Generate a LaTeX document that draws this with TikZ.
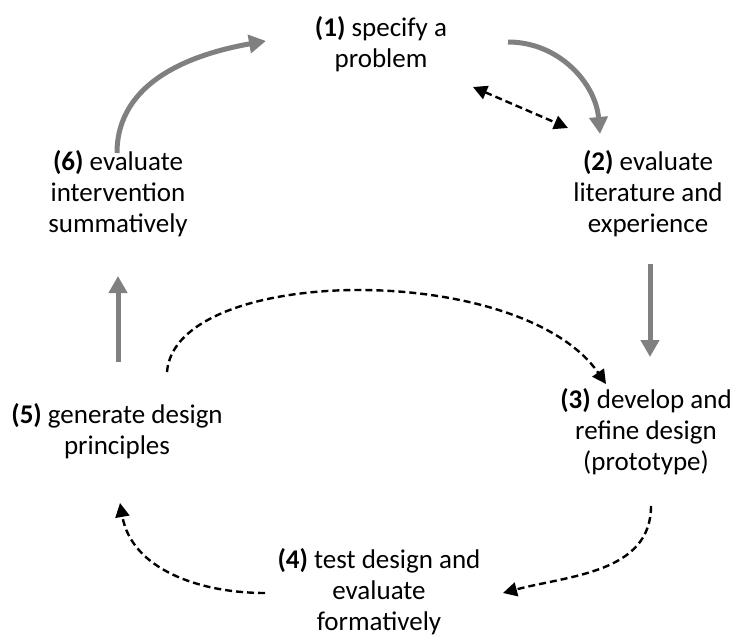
\documentclass[tikz,border=0pt]{standalone}
\usepackage{fontspec}
\setmainfont{Carlito}
\usetikzlibrary{arrows.meta, positioning}

\tikzset{
  phase/.style={align=center, font=\fontsize{27}{31}\selectfont, inner sep=0pt},
  greyarrow/.style={draw=black!50, line width=5pt, -{Triangle[length=17pt,width=18pt]}},
  dasharrow/.style={draw=black, line width=2.4pt, dash pattern=on 7pt off 4pt, -{Triangle[length=14pt,width=14pt]}}
}

\begin{document}
\begin{tikzpicture}[x=1pt,y=-1pt]
  \useasboundingbox (0,0) rectangle (736,639);

  \node(p1) [phase] at (381,44)  {\textbf{(1)} specify a\\problem};
  \node(p2) [phase] at (648,194) {\textbf{(2)} evaluate\\literature and\\experience};
  \node(p3) [phase] at (646,432) {\textbf{(3)} develop and\\refine design\\(prototype)};
  \node(p4) [phase] at (379,592) {\textbf{(4)} test design and\\evaluate\\formatively};
  \node(p5) [phase] at (117,431) {\textbf{(5)} generate design\\principles};
  \node(p6) [phase] at (118,194) {\textbf{(6)} evaluate\\intervention\\summatively};

  % arrow ends
  \coordinate(a61) at (117,153);
  \coordinate(b61) at (266,41);
  \coordinate(a12) at (508,42);
  \coordinate(b12) at (600,134);
  \coordinate(a1) at (473,87);
  \coordinate(b1) at (568,128);
  \coordinate(a23) at (650,264);
  \coordinate(b23) at (650,357);
  \coordinate(a56) at (118,362);
  \coordinate(b56) at (118,276);
  \coordinate(a53) at (167,372);
  \coordinate(b53) at (606,384);
  \coordinate(a34) at (651,506);
  \coordinate(b34) at (503,593);
  \coordinate(a45) at (265,593);
  \coordinate(b45) at (120,503);

  \draw[greyarrow] (a61) to[out=90, in=190] (b61);
  \draw[greyarrow] (a12) to[out=0, in=95] (b12);
  \draw[greyarrow] (a23) -- (b23);
  \draw[greyarrow] (a56) -- (b56);

  \draw[dasharrow, {Triangle[length=14pt,width=14pt]}-{Triangle[length=14pt,width=14pt]}] (a1) -- (b1);
  \draw[dasharrow] (a53) .. controls (175,265) and (520,260) .. (b53);
  \draw[dasharrow] (a34) to[out=-90, in=15] (b34);
  \draw[dasharrow] (a45) to[out=180, in=-80] (b45);
\end{tikzpicture}
\end{document}
